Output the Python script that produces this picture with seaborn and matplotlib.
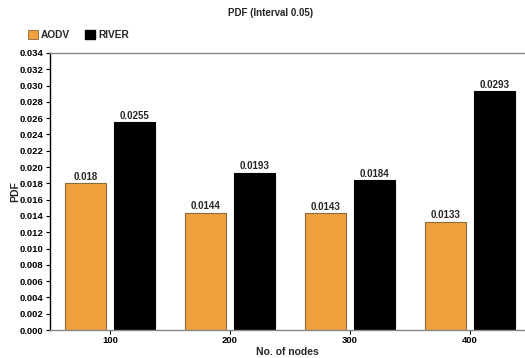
import matplotlib
matplotlib.use("Agg")
import matplotlib.pyplot as plt
import seaborn as sns
import pandas as pd
from matplotlib.patches import Patch

nodes = ["100", "200", "300", "400"]
aodv = [0.018, 0.0144, 0.0143, 0.0133]
river = [0.0255, 0.0193, 0.0184, 0.0293]
protocols = ["AODV", "RIVER"]
colors = ["#F0A03C", "#000000"]
edge_colors = ["#8A6A3A", "#000000"]

df = pd.DataFrame({
    "nodes": nodes * 2,
    "pdf": aodv + river,
    "protocol": [protocols[0]] * len(nodes) + [protocols[1]] * len(nodes),
})

sns.set_style("white")
plt.rcParams["font.family"] = ["Liberation Sans", "DejaVu Sans"]
plt.rcParams["font.weight"] = "bold"

fig = plt.figure(figsize=(5.25, 3.58), dpi=100)
ax = fig.add_axes([0.0952, 0.0782, 0.903, 0.774])

sns.barplot(data=df, x="nodes", y="pdf", hue="protocol", palette=colors,
            width=0.816, gap=0.18, ax=ax, legend=False, saturation=1)

for container, ec, vals in zip(ax.containers, edge_colors, [aodv, river]):
    for bar in container:
        bar.set_edgecolor(ec)
        bar.set_linewidth(0.8)
    ax.bar_label(container, labels=[f"{v:g}" for v in vals], padding=1,
                 fontsize=7, fontweight="bold")

ax.set_ylim(0, 0.034)
ax.set_xlim(-0.5, 3.45)
ax.set_yticks([i * 0.002 for i in range(18)])
ax.set_yticklabels([f"{i * 0.002:.3f}" for i in range(18)])
ax.tick_params(axis="both", labelsize=6.8, length=3, width=0.8, direction="out",
               colors="#000000", pad=1.5)
ax.tick_params(axis="y", left=True)
ax.tick_params(axis="x", bottom=True, pad=1)
for lbl in ax.get_xticklabels() + ax.get_yticklabels():
    lbl.set_fontweight("bold")

ax.spines["left"].set_color("#000000")
ax.spines["left"].set_linewidth(1.0)
for side in ["top", "bottom"]:
    ax.spines[side].set_color("#888888")
    ax.spines[side].set_linewidth(1.0)
ax.spines["right"].set_visible(False)

ax.set_xlabel("No. of nodes", fontsize=7.5, fontweight="bold", labelpad=2)
ax.set_ylabel("PDF", fontsize=7.5, fontweight="bold")
ax.yaxis.set_label_coords(-0.062, 0.5)

fig.text(0.515, 0.965, "PDF (Interval 0.05)", ha="center", va="center",
         fontsize=7, fontweight="bold")

handles = [Patch(facecolor=colors[0], edgecolor=edge_colors[0], linewidth=0.6),
           Patch(facecolor=colors[1], edgecolor=edge_colors[1])]
fig.legend(handles, protocols, loc="center left", bbox_to_anchor=(0.035, 0.903),
           ncol=2, frameon=False, handlelength=1.0, handleheight=1.0,
           handletextpad=0.3, columnspacing=1.5, prop={"weight": "bold", "size": 7.3})

fig.savefig("out.png", dpi=100)
